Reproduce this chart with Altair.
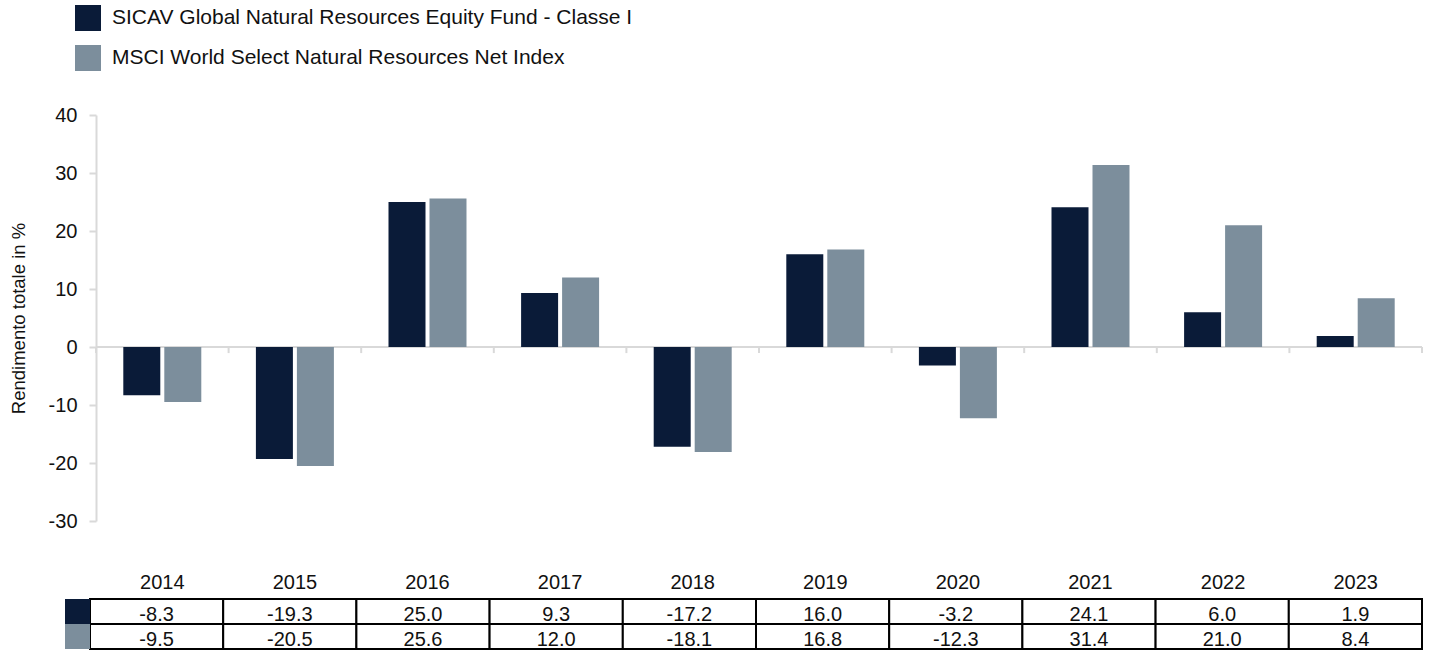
import altair as alt
import pandas as pd

years = ["2014", "2015", "2016", "2017", "2018", "2019", "2020", "2021", "2022", "2023"]
fund = [-8.3, -19.3, 25.0, 9.3, -17.2, 16.0, -3.2, 24.1, 6.0, 1.9]
index = [-9.5, -20.5, 25.6, 12.0, -18.1, 16.8, -12.3, 31.4, 21.0, 8.4]
series_names = [
    "SICAV Global Natural Resources Equity Fund - Classe I",
    "MSCI World Select Natural Resources Net Index",
]
colors = ["#0a1b38", "#7c8e9c"]
y_ticks = [-30, -20, -10, 0, 10, 20, 30, 40]

rows = []
for i, yr in enumerate(years):
    for s, vals in zip(series_names, [fund, index]):
        rows.append({"year": yr, "series": s, "value": vals[i], "label": f"{vals[i]:.1f}"})
df = pd.DataFrame(rows)
df_years = pd.DataFrame({"year": years})
df_series = pd.DataFrame({"series": series_names})

FONT = "Liberation Sans"
GRID = "#d9d9d9"
W, H = 1326, 406

color_scale = alt.Scale(domain=series_names, range=colors)
x_scale = alt.Scale(domain=years, paddingInner=0, paddingOuter=0)
x_axis = alt.Axis(title=None, domain=False, ticks=False, grid=False, labelAngle=0,
                  labelPadding=51, labelFontSize=20, labelFont=FONT, labelColor="#111")
y_scale = alt.Scale(domain=[-30, 40], nice=False, zero=False)

bars = alt.Chart(df).mark_bar().encode(
    x=alt.X("year:N", sort=years, scale=x_scale, axis=x_axis),
    xOffset=alt.XOffset("series:N", sort=series_names,
                        scale=alt.Scale(domain=series_names, paddingInner=0.0976, paddingOuter=0.666)),
    y=alt.Y("value:Q", scale=y_scale,
            axis=alt.Axis(values=y_ticks, labelExpr="'' + datum.value",
                          title="Rendimento totale in %", titleFont=FONT,
                          titleFontSize=18.5, titleFontWeight="normal", titleColor="#111",
                          titlePadding=20, labelFont=FONT, labelFontSize=20, labelColor="#111",
                          labelPadding=12, tickSize=7, tickColor=GRID, tickWidth=2,
                          domainColor=GRID, domainWidth=2, gridColor=GRID, gridWidth=2)),
    color=alt.Color("series:N", scale=color_scale, sort=series_names,
                    legend=alt.Legend(title=None, orient="none", legendX=-21, legendY=-110,
                                      symbolType="square", symbolSize=676, symbolStrokeWidth=0,
                                      labelFontSize=21, labelFont=FONT, labelColor="#111",
                                      labelOffset=11, rowPadding=14, padding=0, labelLimit=0)),
)

zero_rule = alt.Chart(df_years).mark_rule(color=GRID, strokeWidth=2).encode(
    y=alt.datum(0)
)

ticks_start = alt.Chart(df_years).mark_rule(color=GRID, strokeWidth=2).encode(
    x=alt.X("year:N", sort=years, scale=x_scale, axis=x_axis, bandPosition=0),
    y=alt.datum(0),
    y2=alt.datum(-1.05),
)
ticks_end = alt.Chart(df_years).transform_filter(
    alt.datum.year == years[-1]
).mark_rule(color=GRID, strokeWidth=2).encode(
    x=alt.X("year:N", sort=years, scale=x_scale, axis=x_axis, bandPosition=1),
    y=alt.datum(0),
    y2=alt.datum(-1.05),
)

main = alt.layer(zero_rule, bars, ticks_start, ticks_end)

x_tab = alt.X("year:N", sort=years,
              scale=alt.Scale(domain=years, range=[-6, W], paddingInner=0, paddingOuter=0), axis=None)
y_tab = alt.Y("series:N", sort=series_names,
              scale=alt.Scale(domain=series_names, range=[484, 534], paddingInner=0, paddingOuter=0),
              axis=None)

cells = alt.Chart(df).mark_rect(fill="white", stroke="black", strokeWidth=2).encode(
    x=x_tab, y=y_tab
)
cell_text = alt.Chart(df).mark_text(font=FONT, fontSize=20, color="#111", dy=3).encode(
    x=x_tab, y=y_tab, text="label:N"
)
keys = alt.Chart(df_series).mark_rect().encode(
    x=alt.value(-31), x2=alt.value(-6), y=y_tab,
    color=alt.Color("series:N", scale=color_scale, sort=series_names, legend=None),
)

table = alt.layer(cells, cell_text, keys)

chart = alt.layer(main, table).resolve_scale(
    x="independent", y="independent"
).properties(
    width=W, height=H, background="white",
    padding={"left": 9, "top": 5, "right": 6, "bottom": 0}
).configure_view(strokeOpacity=0, strokeWidth=0)

chart.save("out.html", embed_options={"renderer": "svg", "actions": False})
